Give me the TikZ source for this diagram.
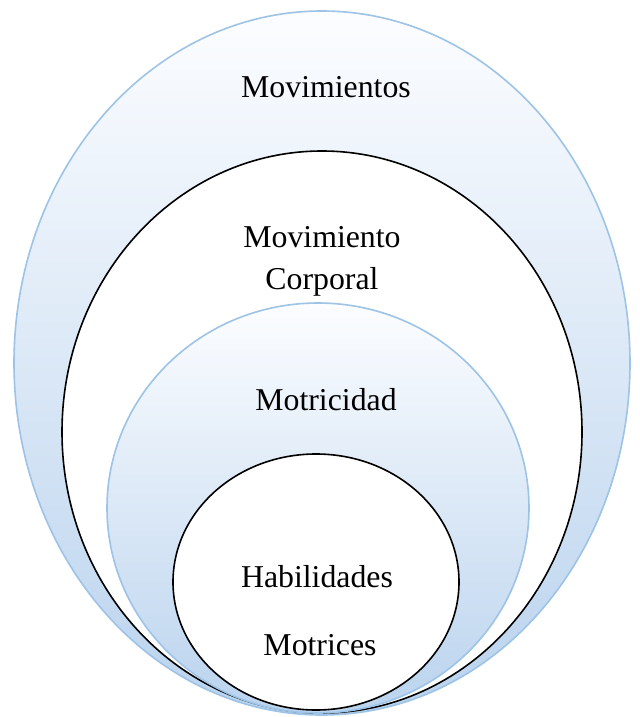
\documentclass[tikz,border=0pt]{standalone}
\usepackage{fontspec}
\setmainfont{Liberation Serif}
\definecolor{ringline}{RGB}{157,195,230}
\definecolor{ringtop}{RGB}{252,253,255}
\definecolor{ringbottom}{RGB}{186,211,238}
\begin{document}
\begin{tikzpicture}[x=0.5pt, y=-0.5pt, style=thick,
    ring/.style={draw=ringline, top color=ringtop, bottom color=ringbottom},
    plain/.style={draw=black, fill=white},
    label/.style={font=\fontsize{15.9}{19}\selectfont, align=center}]
    \useasboundingbox (0,0) rectangle (639,717);
    \draw [ring] (322,363) ellipse [x radius=308, y radius=352];
    \draw [plain] (322,432) ellipse [x radius=260, y radius=281];
    \draw [ring] (318,508) ellipse [x radius=211, y radius=205];
    \draw [plain] (316,582) ellipse [x radius=143, y radius=128];
    \node [label] (mov) at (326,87) {Movimientos};
    \node [label] (movcorp) at (322,261) {Movimiento\\[2pt]Corporal};
    \node [label] (motr) at (326,400) {Motricidad};
    \node [label] (hab) at (317,577) {Habilidades};
    \node [label] (habmot) at (320,645) {Motrices};
\end{tikzpicture}
\end{document}
